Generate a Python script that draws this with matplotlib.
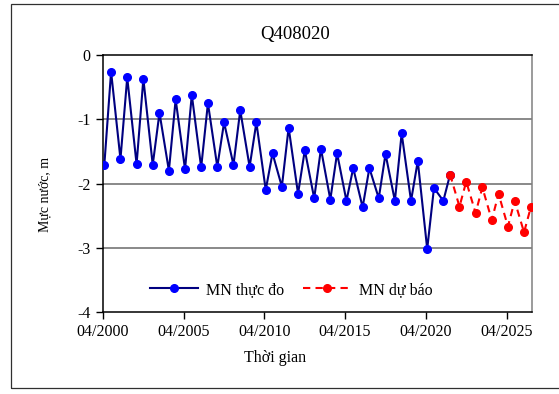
from datetime import datetime

import matplotlib
matplotlib.use("Agg")
import matplotlib.pyplot as plt
from matplotlib.patches import Rectangle

plt.rcParams['font.family'] = ['Liberation Serif', 'DejaVu Serif']

# observed levels: dry season (May) and wet season (Oct) each year
obs_dates = [
    (2000, 5), (2000, 10), (2001, 5), (2001, 10), (2002, 5), (2002, 10),
    (2003, 5), (2003, 10), (2004, 5), (2004, 10), (2005, 5), (2005, 10),
    (2006, 5), (2006, 10), (2007, 5), (2007, 10), (2008, 5), (2008, 10),
    (2009, 5), (2009, 10), (2010, 5), (2010, 10), (2011, 5), (2011, 10),
    (2012, 5), (2012, 10), (2013, 5), (2013, 10), (2014, 5), (2014, 10),
    (2015, 5), (2015, 10), (2016, 5), (2016, 10), (2017, 5), (2017, 10),
    (2018, 5), (2018, 10), (2019, 5), (2019, 10), (2020, 5), (2020, 10),
    (2021, 5), (2021, 10),
]
obs_level = [
    -1.71, -0.26, -1.62, -0.35, -1.70, -0.37,
    -1.71, -0.90, -1.80, -0.69, -1.78, -0.62,
    -1.75, -0.75, -1.74, -1.05, -1.71, -0.86,
    -1.74, -1.05, -2.10, -1.53, -2.05, -1.13,
    -2.16, -1.48, -2.23, -1.46, -2.25, -1.53,
    -2.27, -1.76, -2.37, -1.76, -2.23, -1.54,
    -2.27, -1.22, -2.27, -1.65, -3.02, -2.07,
    -2.27, -1.86,
]

# forecast levels
fc_dates = [
    (2021, 10), (2022, 5), (2022, 10), (2023, 5), (2023, 10), (2024, 5),
    (2024, 10), (2025, 5), (2025, 10), (2026, 5), (2026, 10),
]
fc_level = [-1.86, -2.36, -1.97, -2.46, -2.06, -2.57,
            -2.16, -2.67, -2.27, -2.76, -2.37]

tick_years = [2000, 2005, 2010, 2015, 2020, 2025]

obs_t = [datetime(y, m, 1) for y, m in obs_dates]
fc_t = [datetime(y, m, 1) for y, m in fc_dates]

fig = plt.figure(figsize=(5.59, 3.94), dpi=100)
ax = fig.add_axes([103 / 559, 1 - 312 / 394, 429 / 559, 257 / 394])

# chart frame
fig.patches.append(Rectangle((11 / 559, 1 - 388 / 394), 1.1, 384 / 394,
                             transform=fig.transFigure, fill=False,
                             edgecolor='#303030', lw=0.9))

for v in [-1, -2, -3]:
    ax.axhline(v, color='#808080', lw=1.3, zorder=1)

ax.plot(obs_t, obs_level, color='#000080', lw=1.5, marker='o',
        markersize=5.5, markerfacecolor='#0000FF', markeredgecolor='#0000FF',
        label='MN thực đo', zorder=3)
ax.plot(fc_t, fc_level, color='#FF0000', lw=1.5, dashes=(3.5, 2.5),
        marker='o', markersize=5.5, label='MN dự báo', zorder=4)

ax.set_ylim(-4, 0)
ax.set_yticks([0, -1, -2, -3, -4])
ax.set_yticklabels(['0', '-1', '-2', '-3', '-4'])
ax.set_xlim(datetime(2000, 4, 1), datetime(2026, 10, 28))
ax.set_xticks([datetime(y, 4, 1) for y in tick_years])
ax.set_xticklabels(['04/%d' % y for y in tick_years])
ax.tick_params(labelsize=11.5, length=5, width=1, direction='out', pad=4)

for s in ['left', 'bottom', 'top']:
    ax.spines[s].set_color('black')
    ax.spines[s].set_linewidth(1.1)
ax.spines['right'].set_color('#808080')
ax.spines['right'].set_linewidth(1.1)

fig.text(295 / 559, 1 - 35 / 394, 'Q408020', ha='center', va='center',
         fontsize=13.5)
fig.text(275 / 559, 1 - 358 / 394, 'Thời gian', ha='center', va='center',
         fontsize=11.5)
fig.text(45 / 559, 1 - 194 / 394, 'Mực nước, m', ha='center', va='center',
         rotation=90, fontsize=10)

fig.legend(loc='center', bbox_to_anchor=(291 / 559, 1 - 290 / 394), ncol=2,
           frameon=False, fontsize=11.5, handlelength=3.0, columnspacing=1.2,
           handletextpad=0.5)

fig.savefig('out.png', dpi=100)
